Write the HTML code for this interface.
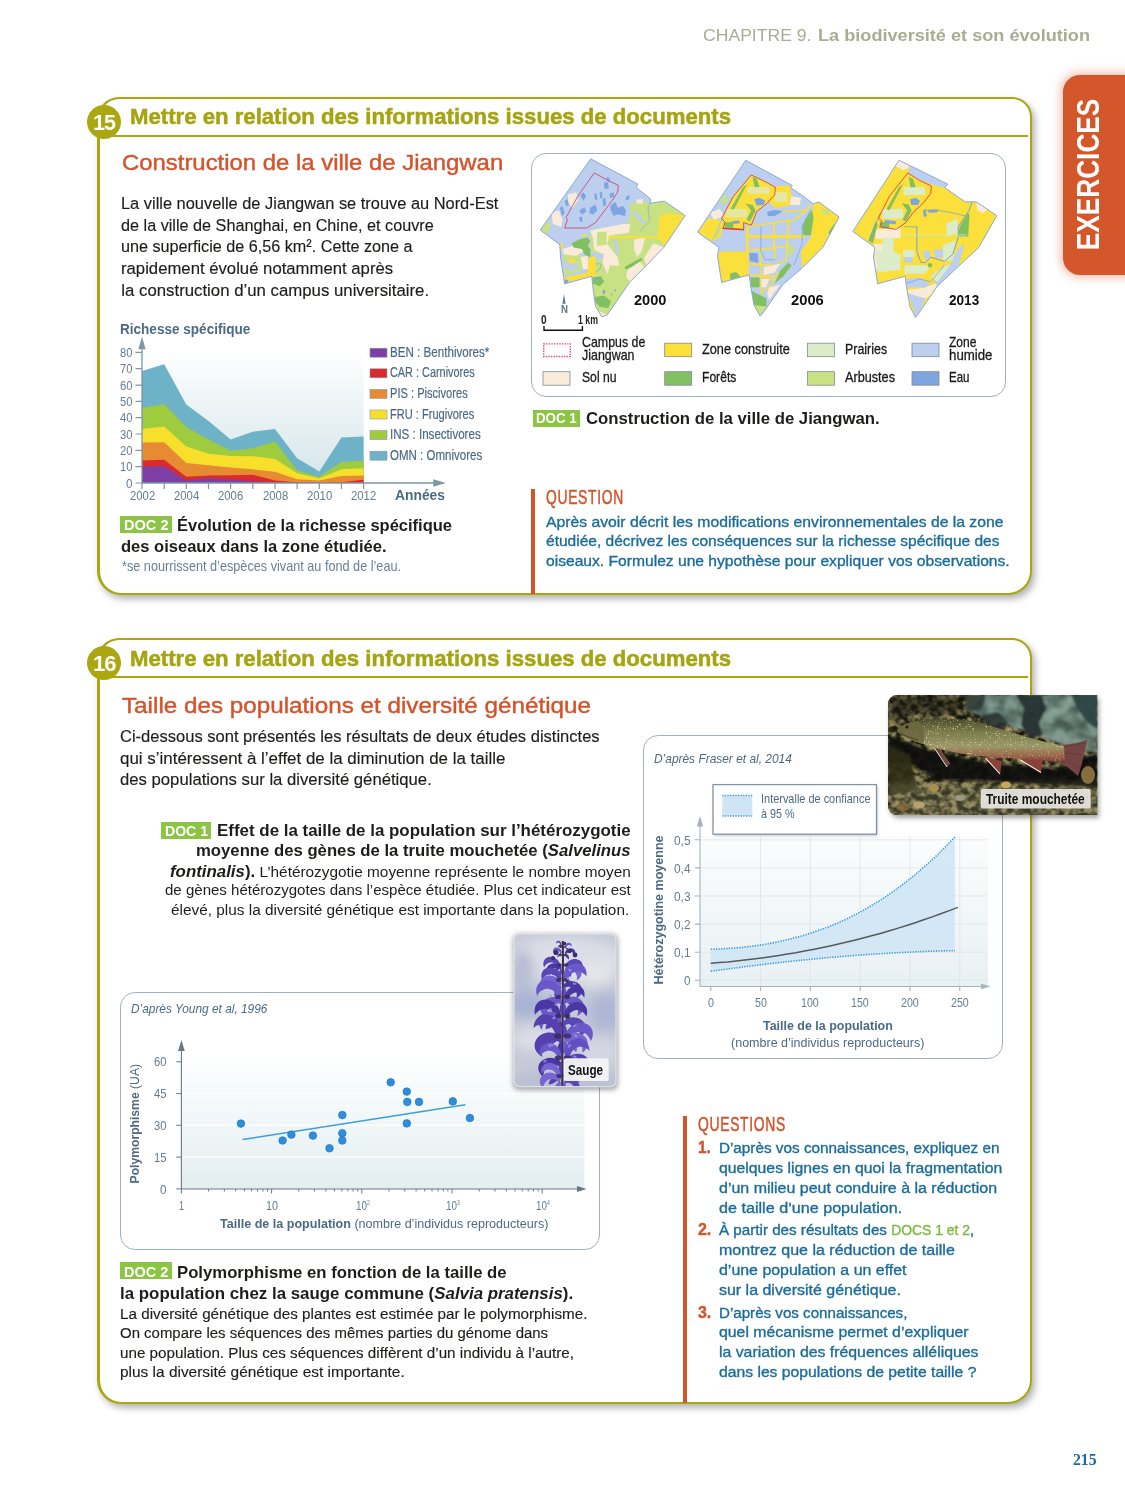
<!DOCTYPE html>
<html lang="fr"><head><meta charset="utf-8"><title>Exercices - La biodiversité et son évolution</title>
<style>
html,body{margin:0;padding:0;background:#fff;}
#page{position:relative;width:1125px;height:1500px;overflow:hidden;background:#fff;font-family:"Liberation Sans",sans-serif;color:#1d1d1b;}
.t{position:absolute;white-space:nowrap;line-height:1;transform-origin:0 0;}
.abs{position:absolute;}
.box{position:absolute;box-sizing:border-box;border:2px solid #aaa710;border-left-width:3px;border-bottom-width:2.5px;border-radius:22px;background:#fff;box-shadow:3px 4px 7px rgba(0,0,0,.3);}
.rule{position:absolute;height:2px;background:#aaa710;}
.badge{position:absolute;width:34px;height:34px;border-radius:50%;background:#aaa710;}
.fig{position:absolute;box-sizing:border-box;border:1.7px solid #9db1c4;border-radius:15px;background:#fff;}
.lab{position:absolute;background:#8cc444;}
.vbar{position:absolute;width:5px;background:#d4532b;}
svg{position:absolute;overflow:visible;}
svg text{font-family:"Liberation Sans",sans-serif;}

</style></head>
<body>
<div id="page">
<!-- side tab -->
<div class="abs" style="left:1062.5px;top:75px;width:90px;height:199.5px;border-radius:17px;background:#d4562b;box-shadow:0 0 9px 3px rgba(232,140,110,.5);"></div>

<!-- exercise 15 -->
<div class="box" style="left:97px;top:97px;width:934.5px;height:498px;border-radius:22px 20px 24px 24px;"></div>
<div class="rule" style="left:104px;top:135px;width:924px;"></div>
<div class="badge" style="left:86.7px;top:104.9px;"></div>
<div class="fig" style="left:531px;top:152.5px;width:475px;height:244.5px;"></div>
<div class="lab" style="left:533px;top:409.5px;width:47px;height:17px;"></div>
<div class="lab" style="left:120px;top:515.8px;width:51.6px;height:16.8px;"></div>
<div class="vbar" style="left:530.8px;top:488.5px;height:105px;width:4.1px;"></div>

<!-- exercise 16 -->
<div class="box" style="left:97px;top:638px;width:934.5px;height:766px;border-radius:22px 20px 24px 24px;"></div>
<div class="rule" style="left:104px;top:675.8px;width:924px;"></div>
<div class="badge" style="left:87px;top:645.5px;"></div>
<div class="fig" style="left:642.5px;top:735px;width:360px;height:323.5px;"></div>
<div class="fig" style="left:119.5px;top:991.5px;width:480px;height:258.8px;"></div>
<div class="lab" style="left:161px;top:822px;width:49.5px;height:16.5px;"></div>
<div class="lab" style="left:120.3px;top:1262px;width:51.5px;height:17px;"></div>
<div class="vbar" style="left:682.8px;top:1116px;height:286.5px;width:4px;"></div>

<svg width="1125" height="1500" viewBox="0 0 1125 1500" style="left:0;top:0">
<defs><linearGradient id="g1" x1="0" y1="0" x2="0" y2="1"><stop offset="0" stop-color="#ffffff"/><stop offset="1" stop-color="#d4e5ea"/></linearGradient></defs>
<rect x="142" y="348" width="221.6" height="135" fill="url(#g1)"/>
<polygon points="142.0,483 142.0,371.0 164.2,364.2 186.3,404.6 208.5,421.0 230.6,439.4 252.8,431.7 275.0,429.1 297.1,458.2 319.3,471.6 341.4,437.6 363.6,436.6 363.6,483" fill="#6db2c6"/>
<polygon points="142.0,483 142.0,407.9 164.2,404.0 186.3,427.0 208.5,439.4 230.6,450.7 252.8,448.2 275.0,441.4 297.1,470.6 319.3,476.8 341.4,462.1 363.6,460.6 363.6,483" fill="#9fcb3f"/>
<polygon points="142.0,483 142.0,429.1 164.2,426.4 186.3,446.6 208.5,453.8 230.6,455.9 252.8,456.2 275.0,459.0 297.1,473.2 319.3,478.6 341.4,469.3 363.6,468.3 363.6,483" fill="#f8df2c"/>
<polygon points="142.0,483 142.0,442.5 164.2,442.2 186.3,463.1 208.5,465.2 230.6,467.5 252.8,469.3 275.0,471.7 297.1,479.2 319.3,480.6 341.4,476.1 363.6,475.5 363.6,483" fill="#e78b32"/>
<polygon points="142.0,483 142.0,460.6 164.2,459.7 186.3,476.8 208.5,475.5 230.6,475.2 252.8,474.7 275.0,480.6 297.1,482.3 319.3,482.7 341.4,482.2 363.6,479.7 363.6,483" fill="#da2a2e"/>
<polygon points="142.0,483 142.0,466.8 164.2,465.9 186.3,480.6 208.5,478.3 230.6,479.6 252.8,481.2 275.0,482.5 297.1,483.0 319.3,483.0 341.4,483.0 363.6,483.0 363.6,483" fill="#7d3fa3"/>
<path d="M142,483.5V346M139.2,348.5L142,339L144.8,348.5ZM142,483H435M434,480.2L443.5,483L434,485.8Z" stroke="#7f97a8" stroke-width="1.3" fill="#7f97a8"/>
<path d="M135.5,483.0H142M135.5,466.7H142M135.5,450.4H142M135.5,434.0H142M135.5,417.7H142M135.5,401.4H142M135.5,385.1H142M135.5,368.7H142M135.5,352.4H142M142.0,483V489M164.2,483V489M186.3,483V489M208.5,483V489M230.6,483V489M252.8,483V489M275.0,483V489M297.1,483V489M319.3,483V489M341.4,483V489M363.6,483V489" stroke="#7f97a8" stroke-width="1.2" fill="none"/>
<rect x="370" y="348.2" width="17" height="9" fill="#7d3fa3" stroke="#8a9aa5" stroke-width=".6"/>
<rect x="370" y="368.8" width="17" height="9" fill="#da2a2e" stroke="#8a9aa5" stroke-width=".6"/>
<rect x="370" y="389.4" width="17" height="9" fill="#e78b32" stroke="#8a9aa5" stroke-width=".6"/>
<rect x="370" y="410.0" width="17" height="9" fill="#f8df2c" stroke="#8a9aa5" stroke-width=".6"/>
<rect x="370" y="430.6" width="17" height="9" fill="#9fcb3f" stroke="#8a9aa5" stroke-width=".6"/>
<rect x="370" y="451.2" width="17" height="9" fill="#6db2c6" stroke="#8a9aa5" stroke-width=".6"/>
</svg>

<svg width="1125" height="1500" viewBox="0 0 1125 1500" style="left:0;top:0">
<g transform="translate(535,155) scale(0.13778)">
<clipPath id="mc1"><polygon points="405,28 745,210 735,235 840,320 835,350 940,335 1090,440 935,670 810,800 690,920 525,1160 485,1175 440,1100 420,960 412,880 215,935 185,740 180,650 38,545" fill="#000"/></clipPath>
<g clip-path="url(#mc1)">
<polygon points="0,0 1125,0 1125,1234 0,1234" fill="#c8e283"/>
<polygon points="405,28 745,210 735,235 840,320 835,350 790,340 700,350 690,430 680,490 640,500 580,520 420,540 400,580 405,620 400,700 500,720 490,760 440,760 435,800 440,860 412,880 215,935 185,740 180,650 38,545" fill="#bccfee"/>
<polygon points="690,360 790,340 835,350 830,480 760,560 690,560" fill="#c8e283"/>
<polygon points="38,545 95,480 115,515 80,580" fill="#c8e283"/>
<polygon points="200,720 300,700 345,745 335,840 215,875" fill="#c8e283"/>
<polygon points="240,285 300,270 312,330 272,385 240,345" fill="#f9ead9"/>
<polygon points="120,425 172,400 200,470 190,522 130,500" fill="#f9ead9"/>
<polygon points="400,548 640,500 690,500 682,565 545,582 522,645 600,740 612,805 545,800 525,865 490,780 500,720 430,690 420,600" fill="#f9ead9"/>
<polygon points="200,682 330,640 352,700 300,732 210,722" fill="#f9ead9"/>
<polygon points="720,612 800,600 772,700 742,742 720,690" fill="#f9ead9"/>
<polygon points="860,640 935,670 870,742 810,800 790,752" fill="#f9ead9"/>
<polygon points="670,832 760,772 792,812 690,920 662,885" fill="#f9ead9"/>
<polygon points="455,1130 525,1160 485,1180" fill="#f9ead9"/>
<polygon points="330,742 382,730 392,822 350,832" fill="#f9ead9"/>
<polygon points="738,322 782,322 782,352 738,352" fill="#f9ead9"/>
<polygon points="450,560 520,555 520,650 450,660" fill="#c8e283"/>
<polygon points="700,412 722,400 802,490 782,506" fill="#bccfee"/>
<polygon points="568,612 590,610 612,722 590,726" fill="#bccfee"/>
<polygon points="215,760 300,790 320,820 250,840 215,820" fill="#bccfee"/>
<polygon points="905,445 950,420 1075,435 1090,450 940,668 920,622 890,612 900,480" fill="#fbdf3a"/>
<polygon points="530,590 890,592 890,605 530,603" fill="#fbdf3a"/>
<polygon points="390,740 440,735 442,880 412,882 380,862" fill="#fbdf3a"/>
<polygon points="205,890 400,850 440,880 260,918 215,915" fill="#fbdf3a"/>
<polygon points="178,640 200,640 206,682 186,676" fill="#fbdf3a"/>
<polygon points="240,762 282,750 292,782 250,792" fill="#fbdf3a"/>
<polygon points="345,574 376,574 376,592 345,592" fill="#fbdf3a"/>
<polygon points="265,640 330,610 382,598 402,622 382,660 402,682 402,742 360,722 340,682 280,672" fill="#80c060"/>
<polygon points="415,890 480,880 502,920 470,952 420,932" fill="#80c060"/>
<polygon points="650,812 770,745 782,760 700,812 660,832" fill="#80c060"/>
<polygon points="430,1030 500,1020 552,1060 532,1112 470,1102 440,1072" fill="#80c060"/>
<polygon points="545,372 582,340 602,382 640,370 662,402 652,442 600,430 570,442 550,402" fill="#7da6e0"/>
<polygon points="400,382 440,360 452,402 420,432 395,422" fill="#7da6e0"/>
<polygon points="330,292 350,270 372,300 350,332" fill="#7da6e0"/>
<polygon points="500,200 530,200 536,242 505,246" fill="#7da6e0"/>
<polygon points="490,322 510,310 516,362 495,372" fill="#7da6e0"/>
<polygon points="540,282 570,270 576,302 545,312" fill="#7da6e0"/>
<polygon points="430,282 446,276 452,322 436,326" fill="#7da6e0"/>
<polygon points="470,270 486,268 489,312 472,314" fill="#7da6e0"/>
<polygon points="320,402 360,380 372,412 340,432" fill="#7da6e0"/>
<polygon points="320,452 340,446 346,482 326,486" fill="#7da6e0"/>
<polygon points="520,160 540,166 546,196 526,190" fill="#7da6e0"/>
<polygon points="180,382 200,370 216,422 196,442" fill="#7da6e0"/>
<polygon points="215,332 236,320 246,362 226,372" fill="#7da6e0"/>
<polygon points="660,302 690,290 682,322 660,332" fill="#7da6e0"/>
<polygon points="215,905 242,905 236,932 215,938" fill="#7da6e0"/>
<polygon points="490,986 505,975 511,1002 495,1012" fill="#7da6e0"/>
<polygon points="545,1010 561,1005 561,1022" fill="#7da6e0"/>
<polygon points="570,980 586,975 586,992" fill="#7da6e0"/>
<polygon points="435,890 456,885 461,906 440,912" fill="#7da6e0"/>
<polyline points="835,350 820,385 832,480 762,552" fill="none" stroke="#86a8da" stroke-width="5" stroke-linejoin="round" stroke-linecap="round"/>
<polyline points="440,790 480,790 470,830 440,850" fill="none" stroke="#86a8da" stroke-width="5" stroke-linejoin="round" stroke-linecap="round"/>
<polygon points="430,130 540,190 605,220 600,270 560,330 440,490 375,530 215,530 235,470 225,455 310,300" fill="none" stroke="#cf3d62" stroke-width="6" stroke-linejoin="round"/>
</g>
<polygon points="405,28 745,210 735,235 840,320 835,350 940,335 1090,440 935,670 810,800 690,920 525,1160 485,1175 440,1100 420,960 412,880 215,935 185,740 180,650 38,545" fill="none" stroke="#86a8da" stroke-width="7" stroke-linejoin="round"/>
</g>
<g transform="translate(692,155) scale(0.13778)">
<clipPath id="mc2"><polygon points="390,38 728,222 715,235 830,315 880,355 920,340 1068,450 950,670 800,820 660,940 520,1140 495,1170 450,1090 425,950 415,870 215,925 185,735 195,670 40,560" fill="#000"/></clipPath>
<g clip-path="url(#mc2)">
<polygon points="0,0 1125,0 1125,1234 0,1234" fill="#bccfee"/>
<polygon points="40,560 120,455 238,485 206,596 150,628" fill="#fbdf3a"/>
<polygon points="185,735 200,700 392,700 402,872 215,925" fill="#fbdf3a"/>
<polygon points="880,355 920,340 1068,450 950,670 800,820 790,700 862,600 872,450" fill="#fbdf3a"/>
<polygon points="610,225 728,222 715,235 722,300 702,372 600,382 560,342 600,282" fill="#fbdf3a"/>
<polygon points="430,145 545,200 605,235 600,290 545,350 470,410 430,510 375,490 375,540 225,530 240,490 215,460 300,300" fill="#fbdf3a"/>
<polyline points="402,520 402,872" fill="none" stroke="#fbdf3a" stroke-width="18.900000000000002" stroke-linejoin="round" stroke-linecap="round"/>
<polyline points="402,592 810,592" fill="none" stroke="#fbdf3a" stroke-width="21.6" stroke-linejoin="round" stroke-linecap="round"/>
<polyline points="415,692 700,662" fill="none" stroke="#fbdf3a" stroke-width="12.15" stroke-linejoin="round" stroke-linecap="round"/>
<polyline points="415,792 610,802" fill="none" stroke="#fbdf3a" stroke-width="12.15" stroke-linejoin="round" stroke-linecap="round"/>
<polyline points="592,490 600,760" fill="none" stroke="#fbdf3a" stroke-width="12.15" stroke-linejoin="round" stroke-linecap="round"/>
<polyline points="705,470 682,760" fill="none" stroke="#fbdf3a" stroke-width="12.15" stroke-linejoin="round" stroke-linecap="round"/>
<polyline points="500,692 502,1000" fill="none" stroke="#fbdf3a" stroke-width="10.8" stroke-linejoin="round" stroke-linecap="round"/>
<polyline points="600,492 740,470 835,400" fill="none" stroke="#fbdf3a" stroke-width="12.15" stroke-linejoin="round" stroke-linecap="round"/>
<polyline points="610,802 682,760" fill="none" stroke="#fbdf3a" stroke-width="12.15" stroke-linejoin="round" stroke-linecap="round"/>
<polyline points="502,880 580,900 640,850" fill="none" stroke="#fbdf3a" stroke-width="10.8" stroke-linejoin="round" stroke-linecap="round"/>
<polyline points="502,1000 560,960 600,900" fill="none" stroke="#fbdf3a" stroke-width="10.8" stroke-linejoin="round" stroke-linecap="round"/>
<polyline points="402,872 600,880" fill="none" stroke="#fbdf3a" stroke-width="12.15" stroke-linejoin="round" stroke-linecap="round"/>
<polyline points="402,520 600,492" fill="none" stroke="#fbdf3a" stroke-width="10.8" stroke-linejoin="round" stroke-linecap="round"/>
<polyline points="835,400 860,360" fill="none" stroke="#fbdf3a" stroke-width="12.15" stroke-linejoin="round" stroke-linecap="round"/>
<polyline points="650,410 835,400" fill="none" stroke="#fbdf3a" stroke-width="10.8" stroke-linejoin="round" stroke-linecap="round"/>
<polygon points="820,470 872,400 882,460 862,582 810,582 800,520" fill="#80c060"/>
<polygon points="425,890 490,890 490,960 430,960" fill="#80c060"/>
<polygon points="430,985 540,1040 540,1100 495,1170 450,1090" fill="#80c060"/>
<polygon points="275,860 320,850 352,882 280,906" fill="#80c060"/>
<polygon points="640,840 700,780 722,802 662,882 600,932" fill="#80c060"/>
<polygon points="990,560 1032,500 1042,522 1002,592" fill="#80c060"/>
<polygon points="440,160 470,172 490,232 455,236" fill="#80c060"/>
<polygon points="390,352 440,362 462,402 420,482 395,470 430,402" fill="#80c060"/>
<polygon points="230,492 300,482 300,528 240,528" fill="#80c060"/>
<polygon points="372,232 400,212 300,402 280,392" fill="#80c060"/>
<polygon points="210,300 250,290 262,342 220,362" fill="#c8e283"/>
<polygon points="160,592 200,500 216,522 176,612" fill="#c8e283"/>
<polygon points="450,1090 540,1100 495,1170" fill="#c8e283"/>
<polygon points="700,660 740,650 735,720 700,725" fill="#c8e283"/>
<polygon points="935,390 990,395 1000,430 950,430" fill="#c8e283"/>
<polygon points="130,420 200,390 236,442 160,472" fill="#f9ead9"/>
<polygon points="720,300 792,310 782,362 710,362" fill="#f9ead9"/>
<polygon points="520,812 640,790 600,852 520,872" fill="#f9ead9"/>
<polygon points="560,962 640,940 560,1052 545,1002" fill="#f9ead9"/>
<polygon points="505,900 560,900 540,960 505,960" fill="#f9ead9"/>
<polygon points="405,232 560,232 560,282 405,282" fill="#dcebc8" opacity=".75"/>
<polygon points="250,392 400,392 400,452 250,452" fill="#dcebc8" opacity=".75"/>
<polygon points="600,270 690,270 690,340 600,340" fill="#dcebc8" opacity=".75"/>
<polygon points="450,322 490,310 532,332 520,362 470,366" fill="#7da6e0"/>
<polygon points="545,412 600,400 662,406 600,442 550,442" fill="#7da6e0"/>
<polygon points="415,712 476,712 482,782 420,772" fill="#7da6e0"/>
<polygon points="290,480 340,475 350,496 300,500" fill="#7da6e0"/>
<polyline points="500,520 500,700 530,760 600,760" fill="none" stroke="#86a9e2" stroke-width="6" stroke-linejoin="round" stroke-linecap="round"/>
<polyline points="740,800 800,640 800,520 860,400" fill="none" stroke="#86a9e2" stroke-width="6" stroke-linejoin="round" stroke-linecap="round"/>
<polyline points="150,622 210,482 232,430" fill="none" stroke="#9db9e6" stroke-width="5" stroke-linejoin="round" stroke-linecap="round"/>
<polygon points="430,145 545,200 605,235 600,290 545,350 470,410 430,510 375,490 375,540 225,530 240,490 215,460 300,300" fill="none" stroke="#d6343f" stroke-width="6" stroke-linejoin="round"/>
<polyline points="225,533 375,543" fill="none" stroke="#d6343f" stroke-width="9" stroke-linejoin="round" stroke-linecap="round" stroke-dasharray="5 7" stroke-linecap="butt"/>
</g>
<polygon points="390,38 728,222 715,235 830,315 880,355 920,340 1068,450 950,670 800,820 660,940 520,1140 495,1170 450,1090 425,950 415,870 215,925 185,735 195,670 40,560" fill="none" stroke="#86a8da" stroke-width="7" stroke-linejoin="round"/>
</g>
<g transform="translate(848,155) scale(0.13778)">
<clipPath id="mc3"><polygon points="370,38 725,212 700,235 850,340 930,340 1080,440 950,670 800,810 650,950 520,1140 490,1180 450,1100 425,960 415,880 215,935 185,740 195,670 35,555" fill="#000"/></clipPath>
<g clip-path="url(#mc3)">
<polygon points="0,0 1125,0 1125,1234 0,1234" fill="#fbdf3a"/>
<polygon points="440,90 470,80 725,212 700,235 600,215 520,180 440,135" fill="#bccfee"/>
<polygon points="800,680 850,640 800,810 650,950 620,920 740,800" fill="#bccfee"/>
<polygon points="430,990 500,975 582,1000 520,1140 490,1180 470,1100" fill="#bccfee"/>
<polygon points="415,900 520,890 600,940 560,962 430,962" fill="#bccfee"/>
<polygon points="540,700 590,690 602,742 560,762" fill="#bccfee"/>
<polygon points="620,690 690,680 690,742 640,752" fill="#bccfee"/>
<polygon points="410,740 470,740 470,780 410,780" fill="#bccfee"/>
<polygon points="370,38 445,60 440,92 400,112 345,80" fill="#f9ead9"/>
<polygon points="195,540 382,530 382,602 200,612" fill="#f9ead9"/>
<polygon points="185,650 252,640 252,822 200,832" fill="#f9ead9"/>
<polygon points="425,980 600,960 622,1002 560,1042 430,1002" fill="#f9ead9"/>
<polygon points="930,340 1012,395 982,422 940,402" fill="#f9ead9"/>
<polygon points="560,960 640,930 640,975 600,985" fill="#f9ead9"/>
<polygon points="250,600 332,600 332,702 382,722 382,832 215,852 200,700 250,690" fill="#dcebc8"/>
<polygon points="410,800 600,800 560,862 410,862" fill="#dcebc8"/>
<polygon points="400,690 482,690 482,740 400,740" fill="#dcebc8"/>
<polygon points="710,500 792,460 802,562 720,592" fill="#dcebc8"/>
<polygon points="690,650 782,620 762,762 690,772" fill="#dcebc8"/>
<polygon points="600,882 700,800 742,800 650,922" fill="#dcebc8"/>
<polygon points="405,232 560,232 560,290 405,290" fill="#dcebc8"/>
<polygon points="250,392 400,392 400,462 250,462" fill="#dcebc8"/>
<polygon points="810,520 872,420 882,440 872,592 800,592" fill="#80c060"/>
<polygon points="372,230 400,210 300,402 280,392" fill="#80c060"/>
<polygon points="150,622 200,480 216,500 180,642" fill="#80c060"/>
<polygon points="230,490 300,480 300,532 240,532" fill="#80c060"/>
<polygon points="440,160 470,170 492,232 455,236" fill="#80c060"/>
<polygon points="390,350 440,360 462,402 420,482 395,470 430,402" fill="#80c060"/>
<polygon points="990,602 1040,510 1052,532 1000,612" fill="#80c060"/>
<circle cx="595" cy="800" r="16" fill="#80c060"/>
<polygon points="450,322 490,310 522,332 510,362 460,362" fill="#7da6e0"/>
<polygon points="545,402 562,390 572,442 550,452" fill="#7da6e0"/>
<polygon points="265,470 350,480 345,502 270,496" fill="#7da6e0"/>
<polygon points="580,400 650,395 650,415 585,420" fill="#7da6e0"/>
<polyline points="500,520 500,700 530,780 560,782 600,742 700,772 760,722 800,600 800,520 880,400 900,340" fill="none" stroke="#6f9de2" stroke-width="7" stroke-linejoin="round" stroke-linecap="round"/>
<polyline points="560,400 650,400 760,420 850,442" fill="none" stroke="#6f9de2" stroke-width="5" stroke-linejoin="round" stroke-linecap="round"/>
<polyline points="150,622 210,482 232,430" fill="none" stroke="#6f9de2" stroke-width="5" stroke-linejoin="round" stroke-linecap="round"/>
<polyline points="410,520 500,522" fill="none" stroke="#6f9de2" stroke-width="5" stroke-linejoin="round" stroke-linecap="round"/>
<polyline points="400,578 860,580" fill="none" stroke="#dcebc8" stroke-width="5" stroke-linejoin="round" stroke-linecap="round"/>
<polyline points="400,592 860,594" fill="none" stroke="#cfe0b0" stroke-width="3" stroke-linejoin="round" stroke-linecap="round"/>
<polyline points="430,930 520,900 600,920 700,800" fill="none" stroke="#6f9de2" stroke-width="5" stroke-linejoin="round" stroke-linecap="round"/>
<polygon points="435,130 520,185 605,225 600,280 545,350 470,420 420,490 350,540 230,520 245,480 220,460 300,300" fill="none" stroke="#d6343f" stroke-width="6" stroke-linejoin="round"/>
</g>
<polygon points="370,38 725,212 700,235 850,340 930,340 1080,440 950,670 800,810 650,950 520,1140 490,1180 450,1100 425,960 415,880 215,935 185,740 195,670 35,555" fill="none" stroke="#86a8da" stroke-width="7" stroke-linejoin="round"/>
</g>
<path d="M564,294L565.6,303.7H562.4Z" fill="#5a7890"/>
<path d="M544,326V330.2H582.4V326" fill="none" stroke="#111" stroke-width="1.4"/>
<rect x="543.7" y="343.9" width="26.6" height="12.6" fill="#fff" stroke="#de4a7c" stroke-width="1.4" stroke-dasharray="1.4 1.2"/>
<rect x="664.7" y="343.2" width="27" height="13.5" fill="#fbdf3a" stroke="#808b94" stroke-width=".8"/>
<rect x="807.6" y="343.2" width="27" height="13.5" fill="#dcebc8" stroke="#808b94" stroke-width=".8"/>
<rect x="912" y="343.2" width="27" height="13.5" fill="#bccfee" stroke="#808b94" stroke-width=".8"/>
<rect x="543" y="371.7" width="27" height="13.5" fill="#f9ead9" stroke="#808b94" stroke-width=".8"/>
<rect x="664.7" y="371.7" width="27" height="13.5" fill="#80c060" stroke="#808b94" stroke-width=".8"/>
<rect x="807.6" y="371.7" width="27" height="13.5" fill="#c8e283" stroke="#808b94" stroke-width=".8"/>
<rect x="912" y="371.7" width="27" height="13.5" fill="#7da6e0" stroke="#808b94" stroke-width=".8"/>
</svg>

<svg width="1125" height="1500" viewBox="0 0 1125 1500" style="left:0;top:0">
<defs><linearGradient id="g2" x1="0" y1="0" x2="0" y2="1"><stop offset="0" stop-color="#fbfdfd"/><stop offset="1" stop-color="#e9f0f3"/></linearGradient><linearGradient id="g3" x1="0" y1="0" x2="0" y2="1"><stop offset="0" stop-color="#ffffff"/><stop offset=".3" stop-color="#f6fafb"/><stop offset="1" stop-color="#e4eef1"/></linearGradient><filter id="sh" x="-10%" y="-10%" width="130%" height="140%"><feGaussianBlur stdDeviation="1.5"/></filter></defs>
<rect x="700" y="835.5" width="288" height="151" fill="url(#g2)"/>
<path d="M760.5,835.5V986M810.3,835.5V986M860.2,835.5V986M910.0,835.5V986M959.8,835.5V986M700,980.3H988M700,952.2H988M700,924.1H988M700,896.0H988M700,867.9H988M700,839.8H988" stroke="#dde5e9" stroke-width="1" fill="none" opacity=".8"/>
<polygon points="710.7,949.3 719.1,949.0 727.5,948.5 736.0,947.9 744.4,947.1 752.8,946.1 761.2,944.9 769.6,943.5 778.0,941.8 786.5,939.9 794.9,937.8 803.3,935.5 811.7,932.8 820.1,929.9 828.6,926.8 837.0,923.3 845.4,919.5 853.8,915.4 862.2,910.9 870.6,906.1 879.1,901.0 887.5,895.5 895.9,889.6 904.3,883.3 912.7,876.7 921.1,869.6 929.6,862.1 938.0,854.2 946.4,845.8 954.8,837.0 954.8,950.6 946.4,950.8 938.0,951.0 929.6,951.3 921.1,951.6 912.7,952.0 904.3,952.4 895.9,952.8 887.5,953.3 879.1,953.8 870.6,954.3 862.2,954.9 853.8,955.5 845.4,956.2 837.0,956.9 828.6,957.6 820.1,958.4 811.7,959.2 803.3,960.0 794.9,960.9 786.5,961.8 778.0,962.7 769.6,963.7 761.2,964.7 752.8,965.7 744.4,966.8 736.0,967.9 727.5,969.0 719.1,970.1 710.7,971.3" fill="#cfe5f5" opacity=".9"/>
<polyline points="710.7,949.3 719.1,949.0 727.5,948.5 736.0,947.9 744.4,947.1 752.8,946.1 761.2,944.9 769.6,943.5 778.0,941.8 786.5,939.9 794.9,937.8 803.3,935.5 811.7,932.8 820.1,929.9 828.6,926.8 837.0,923.3 845.4,919.5 853.8,915.4 862.2,910.9 870.6,906.1 879.1,901.0 887.5,895.5 895.9,889.6 904.3,883.3 912.7,876.7 921.1,869.6 929.6,862.1 938.0,854.2 946.4,845.8 954.8,837.0" fill="none" stroke="#3a9ad9" stroke-width="1.6" stroke-dasharray="1.3 1.3"/>
<polyline points="710.7,971.3 719.1,970.1 727.5,969.0 736.0,967.9 744.4,966.8 752.8,965.7 761.2,964.7 769.6,963.7 778.0,962.7 786.5,961.8 794.9,960.9 803.3,960.0 811.7,959.2 820.1,958.4 828.6,957.6 837.0,956.9 845.4,956.2 853.8,955.5 862.2,954.9 870.6,954.3 879.1,953.8 887.5,953.3 895.9,952.8 904.3,952.4 912.7,952.0 921.1,951.6 929.6,951.3 938.0,951.0 946.4,950.8 954.8,950.6" fill="none" stroke="#3a9ad9" stroke-width="1.6" stroke-dasharray="1.3 1.3"/>
<polyline points="710.7,963.3 719.2,962.6 727.7,961.9 736.3,961.0 744.8,960.1 753.3,959.1 761.8,958.0 770.3,956.8 778.9,955.5 787.4,954.1 795.9,952.7 804.4,951.1 813.0,949.5 821.5,947.8 830.0,946.0 838.5,944.1 847.0,942.1 855.6,940.0 864.1,937.8 872.6,935.5 881.1,933.2 889.6,930.7 898.2,928.1 906.7,925.5 915.2,922.7 923.7,919.8 932.2,916.9 940.8,913.8 949.3,910.6 957.8,907.4" fill="none" stroke="#58595b" stroke-width="1.5"/>
<path d="M700,986.5V825M697.6,826L700,818L702.4,826ZM700,986.5H981M981.5,984.4L988.5,986.5L981.5,988.6Z" stroke="#a3b4c1" stroke-width="1.1" fill="#a3b4c1"/>
<path d="M694.8,980.3H700M694.8,952.2H700M694.8,924.1H700M694.8,896.0H700M694.8,867.9H700M694.8,839.8H700M710.7,986.5V991M760.5,986.5V991M810.3,986.5V991M860.2,986.5V991M910.0,986.5V991M959.8,986.5V991" stroke="#a3b4c1" stroke-width="1.1" fill="none"/>
<rect x="714.5" y="786.8" width="163" height="49" fill="#6a7a88" opacity=".4" filter="url(#sh)"/>
<rect x="713" y="784.6" width="163.5" height="49.6" fill="#fff" stroke="#8094a6" stroke-width="1.3"/>
<rect x="722.3" y="795.5" width="30" height="20.5" fill="#cfe5f5"/>
<path d="M722.3,795.5h30M722.3,816h30" stroke="#3a9ad9" stroke-width="1.6" stroke-dasharray="1.3 1.3" fill="none"/>
<rect x="181.4" y="1052" width="403" height="137" fill="url(#g3)"/>
<path d="M181.4,1157.1H584M181.4,1125.3H584M181.4,1093.6H584M181.4,1061.8H584" stroke="#fff" stroke-width="1.2" fill="none" opacity=".9"/>
<path d="M181.4,1189V1049M178.8,1050.5L181.4,1042L184,1050.5ZM181.4,1189H577M577.5,1186.8L584.7,1189L577.5,1191.2Z" stroke="#64798a" stroke-width="1.1" fill="#64798a"/>
<path d="M176.2,1188.9H181.4M176.2,1157.1H181.4M176.2,1125.3H181.4M176.2,1093.6H181.4M176.2,1061.8H181.4M181.4,1189V1193.5M208.6,1189V1191.5M224.4,1189V1191.5M235.7,1189V1191.5M244.4,1189V1191.5M251.6,1189V1191.5M257.6,1189V1191.5M262.9,1189V1191.5M267.5,1189V1191.5M271.6,1189V1193.5M298.8,1189V1191.5M314.6,1189V1191.5M325.9,1189V1191.5M334.6,1189V1191.5M341.8,1189V1191.5M347.8,1189V1191.5M353.1,1189V1191.5M357.7,1189V1191.5M361.8,1189V1193.5M389.0,1189V1191.5M404.8,1189V1191.5M416.1,1189V1191.5M424.8,1189V1191.5M432.0,1189V1191.5M438.0,1189V1191.5M443.3,1189V1191.5M447.9,1189V1191.5M452.0,1189V1193.5M479.2,1189V1191.5M495.0,1189V1191.5M506.3,1189V1191.5M515.0,1189V1191.5M522.2,1189V1191.5M528.2,1189V1191.5M533.5,1189V1191.5M538.1,1189V1191.5M542.2,1189V1193.5" stroke="#64798a" stroke-width="1" fill="none"/>
<line x1="242.5" y1="1139.5" x2="465.5" y2="1104.8" stroke="#3d9fd8" stroke-width="1.5"/>
<circle cx="240.9" cy="1123.6" r="3.8" fill="#2f8edb" stroke="#2277c4" stroke-width=".7"/>
<circle cx="282.6" cy="1140.5" r="3.8" fill="#2f8edb" stroke="#2277c4" stroke-width=".7"/>
<circle cx="291.4" cy="1134.6" r="3.8" fill="#2f8edb" stroke="#2277c4" stroke-width=".7"/>
<circle cx="312.9" cy="1135.6" r="3.8" fill="#2f8edb" stroke="#2277c4" stroke-width=".7"/>
<circle cx="329.5" cy="1148.3" r="3.8" fill="#2f8edb" stroke="#2277c4" stroke-width=".7"/>
<circle cx="342.3" cy="1115.1" r="3.8" fill="#2f8edb" stroke="#2277c4" stroke-width=".7"/>
<circle cx="342.3" cy="1133.2" r="3.8" fill="#2f8edb" stroke="#2277c4" stroke-width=".7"/>
<circle cx="342.3" cy="1140.5" r="3.8" fill="#2f8edb" stroke="#2277c4" stroke-width=".7"/>
<circle cx="390.7" cy="1082.3" r="3.8" fill="#2f8edb" stroke="#2277c4" stroke-width=".7"/>
<circle cx="406.8" cy="1091.6" r="3.8" fill="#2f8edb" stroke="#2277c4" stroke-width=".7"/>
<circle cx="407.3" cy="1101.9" r="3.8" fill="#2f8edb" stroke="#2277c4" stroke-width=".7"/>
<circle cx="406.8" cy="1123.4" r="3.8" fill="#2f8edb" stroke="#2277c4" stroke-width=".7"/>
<circle cx="419" cy="1101.9" r="3.8" fill="#2f8edb" stroke="#2277c4" stroke-width=".7"/>
<circle cx="452.8" cy="1101.4" r="3.8" fill="#2f8edb" stroke="#2277c4" stroke-width=".7"/>
<circle cx="469.9" cy="1118" r="3.8" fill="#2f8edb" stroke="#2277c4" stroke-width=".7"/>
</svg>

<!-- trout photo -->
<div class="abs" style="left:890px;top:698px;width:209px;height:120px;border-radius:9px 0 0 9px;background:rgba(70,70,70,.5);filter:blur(2.5px);"></div>
<svg width="209.3" height="120.1" viewBox="0 0 209.3 120.1" style="left:888px;top:695.4px">
<defs>
<clipPath id="rk"><path d="M78,0H209.3V58L180,52L150,40L120,30L95,22L82,16Z"/></clipPath>
<clipPath id="fc"><path d="M9,0H209.3V120.1H9A9,9 0 0 1 0,111.1V9A9,9 0 0 1 9,0Z"/></clipPath>
<filter id="peb" x="0" y="0" width="100%" height="100%" color-interpolation-filters="sRGB"><feTurbulence type="fractalNoise" baseFrequency=".13 .16" numOctaves="2" seed="7" result="n"/><feColorMatrix type="matrix" values="1 0 0 0 0 1 0 0 0 0 1 0 0 0 0 0 0 0 0 1"/>
<feComponentTransfer><feFuncR type="table" tableValues=".07 .07 .08 .14 .34 .56 .66 .7 .7"/><feFuncG type="table" tableValues=".07 .07 .08 .14 .33 .52 .6 .64 .64"/><feFuncB type="table" tableValues=".04 .04 .05 .09 .22 .35 .42 .45 .45"/><feFuncA type="linear" slope="0" intercept="1"/></feComponentTransfer></filter>
<filter id="peb2" x="0" y="0" width="100%" height="100%" color-interpolation-filters="sRGB"><feTurbulence type="fractalNoise" baseFrequency=".06 .08" numOctaves="3" seed="3" result="n"/><feColorMatrix type="matrix" values="1 0 0 0 0 1 0 0 0 0 1 0 0 0 0 0 0 0 0 1"/>
<feComponentTransfer><feFuncR type="table" tableValues=".1 .1 .15 .3 .48 .58 .62 .62"/><feFuncG type="table" tableValues=".14 .14 .2 .38 .58 .68 .72 .72"/><feFuncB type="table" tableValues=".13 .13 .19 .35 .54 .63 .67 .67"/><feFuncA type="linear" slope="0" intercept="1"/></feComponentTransfer></filter>
<filter id="spk" x="0" y="0" width="100%" height="100%" color-interpolation-filters="sRGB"><feTurbulence type="turbulence" baseFrequency=".45" numOctaves="1" seed="11" result="n"/>
<feColorMatrix in="n" type="matrix" values="0 0 0 0 .86  0 0 0 0 .84  0 0 0 0 .6  3.2 0 0 0 -.95"/><feComposite in2="SourceGraphic" operator="in"/></filter>
<filter id="b1"><feGaussianBlur stdDeviation="1.2"/></filter>
<filter id="b3"><feGaussianBlur stdDeviation="3"/></filter>
<linearGradient id="fg" x1="0" y1="0" x2="0" y2="1"><stop offset="0" stop-color="#4a492b"/><stop offset=".3" stop-color="#7a7a4c"/><stop offset=".62" stop-color="#9a9868"/><stop offset=".86" stop-color="#9a6049"/><stop offset="1" stop-color="#683430"/></linearGradient>
</defs>
<g clip-path="url(#fc)">
<rect width="209.3" height="120.1" fill="#3b3a24"/>
<!-- pebbles texture -->
<rect width="209.3" height="120.1" filter="url(#peb)" opacity=".95"/>
<!-- teal rock upper right -->
<g filter="url(#b1)">
<path d="M78,0H209.3V58L180,52L150,40L120,30L95,22L82,16Z" fill="#6f897f"/>
<g clip-path="url(#rk)"><rect x="72" y="0" width="138" height="58" filter="url(#peb2)" opacity=".8"/></g>
<path d="M78,0H209.3V58L180,52L150,40L120,30L95,22L82,16Z" fill="#7a958a" opacity=".35"/>
<path d="M183,0H209.3V34C200,30 192,20 183,0Z" fill="#2f4646"/>
<path d="M128,0h26l4,14l-7,14l4,12l-14,4l-8,-14l3,-16Z" fill="#222c2c" opacity=".9"/>
<path d="M94,20l16,-3l10,10l-4,10l-18,-6Z" fill="#263030" opacity=".85"/>
<path d="M76,0h22l-4,14l-16,4Z" fill="#2a3330" opacity=".8"/>
</g>
<!-- dark top-left -->
<path d="M0,0H75L72,16L50,22L28,18L0,26Z" fill="#14130c" opacity=".62" filter="url(#b3)"/>
<!-- shadow beneath the fish -->
<path d="M0,40L40,55L100,68L170,74L209.3,58V92L160,90L100,86L50,84L25,70L0,66Z" fill="#0f0f0a" opacity=".93" filter="url(#b1)"/>
<path d="M0,50L22,60L30,95L0,100Z" fill="#2e2f18" opacity=".9" filter="url(#b1)"/>
<!-- lighter pebbles bottom -->
<rect x="0" y="88" width="209.3" height="34" fill="#8d8763" opacity=".3" filter="url(#b3)"/>
<ellipse cx="118" cy="90" rx="5" ry="3.5" fill="#c8a85a"/><ellipse cx="46" cy="93" rx="5" ry="4" fill="#a8904e"/><ellipse cx="31" cy="110" rx="6" ry="3.5" fill="#b8a070"/>
<ellipse cx="72" cy="103" rx="5" ry="3" fill="#9a9a86"/><ellipse cx="200" cy="80" rx="7" ry="9" fill="#a0864a" opacity=".8"/><ellipse cx="15" cy="112" rx="7" ry="4" fill="#8a6a3a" opacity=".8"/>
<!-- fish -->
<g>
<path d="M172,50C182,50 192,47 199.5,45C197,54 196,64 190,81C185,77 180,72 174,69Z" fill="#754544"/><path d="M176,52L197,48M177,58L195,60M177,64L192,74" stroke="#5a3435" stroke-width=".8" fill="none" opacity=".7"/>
<path d="M45,51L59,72L62.5,68.5L52,54Z" fill="#6e4a3c"/><path d="M45,51L59,72" stroke="#e8e6e0" stroke-width="1" fill="none"/>
<path d="M97,62L112,79L114,66Z" fill="#8d4038"/><path d="M97.5,63L112,79" stroke="#f2f0ea" stroke-width="1.1" fill="none"/>
<path d="M132,64L153,77.5L155,64Z" fill="#8d4038"/><path d="M132.5,65L153,77.5" stroke="#f2f0ea" stroke-width="1.1" fill="none"/>
<path id="fb" d="M10,34C18,27 34,23.5 50,23.5C70,23.5 88,26 100,30C118,35.5 140,43 158,47C166,49 172,50 176,51L177,68C170,67 160,66.5 150,65C130,63.5 110,63 95,61.5C80,60 62,57 48,53C34,49 20,44 12,39C9.5,37.5 9,35.5 10,34Z" fill="url(#fg)"/>
<use href="#fb" fill="#fff" filter="url(#spk)" opacity=".85"/>
<path d="M10,34C14,30 22,27 30,25.5C36,31 38,42 35,49C26,46 17,42 12,39C9.5,37.5 9,35.5 10,34Z" fill="#6b6640" opacity=".85"/>
<circle cx="19" cy="32" r="1.5" fill="#1a1a10"/>
<path d="M11,37.5C17,41 24,43.5 30,45" stroke="#3a3020" stroke-width=".7" fill="none"/>
</g>
</g>
<!-- label -->
<rect x="92.7" y="93.9" width="110" height="19.7" rx="2" fill="#e6e5e1" opacity=".93"/>
</svg>

<!-- sage photo -->
<div class="abs" style="left:513px;top:934px;width:105px;height:156px;border-radius:6px;background:rgba(80,80,90,.5);filter:blur(2.5px);"></div>
<svg width="102" height="152.6" viewBox="0 0 102 152.6" style="left:514px;top:934.4px">
<defs><clipPath id="sc"><rect width="102" height="152.6" rx="5.5"/></clipPath><filter id="sb6"><feGaussianBlur stdDeviation="6"/></filter><filter id="sb1"><feGaussianBlur stdDeviation=".45"/></filter>
<path id="pt" d="M0,0C1.5,-6 7,-9.5 12.5,-7.5C16,-6 17.5,-2 15.5,2.5C14.5,-0.5 11.5,-3 8,-2.5C5,-2 3,0 2.2,3.2Z"/>
<path id="lp" d="M1.5,1.5C5,2 8.5,5.5 7.5,9.5C4.5,8.5 2,6 1,3Z"/></defs>
<g clip-path="url(#sc)">
<rect width="102" height="152.6" fill="#c6cad8"/>
<g filter="url(#sb6)"><ellipse cx="50" cy="25" rx="60" ry="22" fill="#dcdee6"/><ellipse cx="12" cy="70" rx="22" ry="14" fill="#a9b3d4"/><ellipse cx="92" cy="78" rx="18" ry="20" fill="#aeb8d6"/><ellipse cx="80" cy="40" rx="22" ry="12" fill="#e4e5ea"/><ellipse cx="20" cy="105" rx="22" ry="12" fill="#dcdee6"/><ellipse cx="85" cy="118" rx="20" ry="14" fill="#d4d7e2"/><ellipse cx="50" cy="148" rx="60" ry="10" fill="#b9bfd2"/><ellipse cx="8" cy="35" rx="12" ry="20" fill="#b7bdd4"/></g>
<path d="M48.7,7C49.6,40 48.2,90 48.3,152.6" stroke="#47324a" stroke-width="2" fill="none"/>
<g filter="url(#sb1)">
<g transform="translate(47.4,10.6) scale(-0.35,0.35) rotate(-19)"><use href="#pt" fill="#5846b4"/><use href="#lp" fill="#5846b4"/></g>
<g transform="translate(50.8,13.1) scale(0.44,0.44) rotate(-12)"><use href="#pt" fill="#6a58c8"/><use href="#lp" fill="#5440ae"/></g>
<g transform="translate(47.9,18.4) scale(-0.55,0.55) rotate(-6)"><use href="#pt" fill="#6a58c8"/><use href="#lp" fill="#5846b4"/></g>
<g transform="translate(50.8,18.8) scale(0.64,0.64) rotate(7)"><use href="#pt" fill="#4a38a4"/><use href="#lp" fill="#4a38a4"/></g>
<g transform="translate(46.5,31.5) scale(-1.05,1.05) rotate(-2)"><use href="#pt" fill="#5846b4"/><use href="#lp" fill="#5440ae"/></g>
<g transform="translate(47.7,33.0) scale(-0.95,0.95) rotate(27)"><use href="#pt" fill="#4a38a4"/><use href="#lp" fill="#5846b4"/></g>
<g transform="translate(51.1,31.4) scale(1.07,1.07) rotate(13)"><use href="#pt" fill="#5846b4"/><use href="#lp" fill="#4a38a4"/></g>
<g transform="translate(50.9,34.0) scale(1.09,1.09) rotate(38)"><use href="#pt" fill="#7766d2"/><use href="#lp" fill="#7766d2"/></g>
<g transform="translate(47.9,44.2) scale(-1.26,1.26) rotate(-3)"><use href="#pt" fill="#5846b4"/><use href="#lp" fill="#5846b4"/></g>
<g transform="translate(47.6,49.1) scale(-1.32,1.32) rotate(14)"><use href="#pt" fill="#7766d2"/><use href="#lp" fill="#6350c0"/></g>
<g transform="translate(49.6,44.7) scale(1.46,1.46) rotate(-15)"><use href="#pt" fill="#6a58c8"/><use href="#lp" fill="#6350c0"/></g>
<g transform="translate(49.9,50.0) scale(1.20,1.20) rotate(40)"><use href="#pt" fill="#4a38a4"/><use href="#lp" fill="#6350c0"/></g>
<g transform="translate(48.0,60.2) scale(-1.59,1.59) rotate(-5)"><use href="#pt" fill="#6a58c8"/><use href="#lp" fill="#4a38a4"/></g>
<g transform="translate(47.7,65.3) scale(-1.47,1.47) rotate(46)"><use href="#pt" fill="#6a58c8"/><use href="#lp" fill="#4a38a4"/></g>
<g transform="translate(50.6,63.6) scale(1.25,1.25) rotate(-9)"><use href="#pt" fill="#4a38a4"/><use href="#lp" fill="#6350c0"/></g>
<g transform="translate(49.8,65.3) scale(1.36,1.36) rotate(42)"><use href="#pt" fill="#6a58c8"/><use href="#lp" fill="#6350c0"/></g>
<g transform="translate(47.0,82.3) scale(-1.66,1.66) rotate(-12)"><use href="#pt" fill="#4a38a4"/><use href="#lp" fill="#5440ae"/></g>
<g transform="translate(47.9,84.5) scale(-1.45,1.45) rotate(21)"><use href="#pt" fill="#6a58c8"/><use href="#lp" fill="#4a38a4"/></g>
<g transform="translate(50.1,80.5) scale(1.42,1.42) rotate(-4)"><use href="#pt" fill="#4a38a4"/><use href="#lp" fill="#4a38a4"/></g>
<g transform="translate(49.6,86.7) scale(1.45,1.45) rotate(38)"><use href="#pt" fill="#5846b4"/><use href="#lp" fill="#5846b4"/></g>
<g transform="translate(47.0,102.9) scale(-1.84,1.84) rotate(-27)"><use href="#pt" fill="#5440ae"/><use href="#lp" fill="#5846b4"/></g>
<g transform="translate(47.6,103.1) scale(-1.76,1.76) rotate(37)"><use href="#pt" fill="#5440ae"/><use href="#lp" fill="#4a38a4"/></g>
<g transform="translate(51.2,100.9) scale(1.68,1.68) rotate(5)"><use href="#pt" fill="#6a58c8"/><use href="#lp" fill="#7766d2"/></g>
<g transform="translate(50.0,104.0) scale(1.50,1.50) rotate(30)"><use href="#pt" fill="#7766d2"/><use href="#lp" fill="#6a58c8"/></g>
<g transform="translate(47.7,122.0) scale(-1.37,1.37) rotate(-8)"><use href="#pt" fill="#6a58c8"/><use href="#lp" fill="#6a58c8"/></g>
<g transform="translate(47.5,128.6) scale(-1.47,1.47) rotate(31)"><use href="#pt" fill="#4a38a4"/><use href="#lp" fill="#5440ae"/></g>
<g transform="translate(51.1,123.6) scale(1.61,1.61) rotate(-25)"><use href="#pt" fill="#6350c0"/><use href="#lp" fill="#6350c0"/></g>
<g transform="translate(50.1,128.7) scale(1.53,1.53) rotate(14)"><use href="#pt" fill="#5440ae"/><use href="#lp" fill="#6a58c8"/></g>
<g transform="translate(46.6,141.6) scale(-1.23,1.23) rotate(-15)"><use href="#pt" fill="#7766d2"/><use href="#lp" fill="#5440ae"/></g>
<g transform="translate(46.6,144.4) scale(-1.28,1.28) rotate(22)"><use href="#pt" fill="#7766d2"/><use href="#lp" fill="#7766d2"/></g>
<g transform="translate(51.1,141.7) scale(1.33,1.33) rotate(-27)"><use href="#pt" fill="#5846b4"/><use href="#lp" fill="#7766d2"/></g>
<g transform="translate(51.1,145.7) scale(1.06,1.06) rotate(52)"><use href="#pt" fill="#5846b4"/><use href="#lp" fill="#6a58c8"/></g>
<ellipse cx="46.8" cy="13.0" rx="1.3" ry="1.0" fill="#3b2a5e" opacity=".85"/>
<ellipse cx="50.6" cy="13.0" rx="1.3" ry="1.0" fill="#3b2a5e" opacity=".85"/>
<ellipse cx="46.4" cy="21.0" rx="1.7" ry="1.2" fill="#3b2a5e" opacity=".85"/>
<ellipse cx="51.0" cy="21.0" rx="1.7" ry="1.2" fill="#3b2a5e" opacity=".85"/>
<ellipse cx="45.5" cy="31.0" rx="2.4" ry="1.7" fill="#3b2a5e" opacity=".85"/>
<ellipse cx="51.9" cy="31.0" rx="2.4" ry="1.7" fill="#3b2a5e" opacity=".85"/>
<ellipse cx="44.8" cy="46.0" rx="2.9" ry="2.1" fill="#3b2a5e" opacity=".85"/>
<ellipse cx="52.6" cy="46.0" rx="2.9" ry="2.1" fill="#3b2a5e" opacity=".85"/>
<ellipse cx="44.5" cy="63.0" rx="3.2" ry="2.2" fill="#3b2a5e" opacity=".85"/>
<ellipse cx="52.9" cy="63.0" rx="3.2" ry="2.2" fill="#3b2a5e" opacity=".85"/>
<ellipse cx="44.4" cy="82.0" rx="3.3" ry="2.3" fill="#3b2a5e" opacity=".85"/>
<ellipse cx="53.0" cy="82.0" rx="3.3" ry="2.3" fill="#3b2a5e" opacity=".85"/>
<ellipse cx="43.9" cy="102.0" rx="3.8" ry="2.6" fill="#3b2a5e" opacity=".85"/>
<ellipse cx="53.6" cy="102.0" rx="3.8" ry="2.6" fill="#3b2a5e" opacity=".85"/>
<ellipse cx="44.2" cy="124.0" rx="3.5" ry="2.4" fill="#3b2a5e" opacity=".85"/>
<ellipse cx="53.2" cy="124.0" rx="3.5" ry="2.4" fill="#3b2a5e" opacity=".85"/>
<ellipse cx="45.1" cy="142.0" rx="2.8" ry="1.9" fill="#3b2a5e" opacity=".85"/>
<ellipse cx="52.3" cy="142.0" rx="2.8" ry="1.9" fill="#3b2a5e" opacity=".85"/>
<circle cx="50.5" cy="9.5" r="1.8" fill="#3d2c74"/>
<circle cx="46.5" cy="12" r="1.5" fill="#3d2c74"/>
<circle cx="42" cy="18.5" r="2.6" fill="#3d2c74"/>
<circle cx="55.5" cy="17" r="2.2" fill="#3d2c74"/>
<circle cx="61" cy="21" r="2.4" fill="#3d2c74"/>
<circle cx="39" cy="24" r="2" fill="#3d2c74"/>
<ellipse cx="61.6" cy="101.6" rx="2" ry="1.1" fill="#a79ce6" opacity=".7" transform="rotate(30 61.6 101.6)"/>
<ellipse cx="31.0" cy="127.2" rx="2" ry="1.1" fill="#a79ce6" opacity=".7" transform="rotate(-35 31.0 127.2)"/>
<ellipse cx="54.0" cy="44.8" rx="2" ry="1.1" fill="#a79ce6" opacity=".7" transform="rotate(37 54.0 44.8)"/>
<ellipse cx="35.4" cy="111.8" rx="2" ry="1.1" fill="#a79ce6" opacity=".7" transform="rotate(45 35.4 111.8)"/>
<ellipse cx="60.5" cy="49.6" rx="2" ry="1.1" fill="#a79ce6" opacity=".7" transform="rotate(7 60.5 49.6)"/>
<ellipse cx="55.4" cy="111.9" rx="2" ry="1.1" fill="#a79ce6" opacity=".7" transform="rotate(-56 55.4 111.9)"/>
<ellipse cx="60.9" cy="91.6" rx="2" ry="1.1" fill="#a79ce6" opacity=".7" transform="rotate(-29 60.9 91.6)"/>
<ellipse cx="37.8" cy="110.8" rx="2" ry="1.1" fill="#a79ce6" opacity=".7" transform="rotate(32 37.8 110.8)"/>
<ellipse cx="39.9" cy="84.0" rx="2" ry="1.1" fill="#a79ce6" opacity=".7" transform="rotate(-18 39.9 84.0)"/>
<ellipse cx="55.9" cy="36.0" rx="2" ry="1.1" fill="#a79ce6" opacity=".7" transform="rotate(34 55.9 36.0)"/>
<ellipse cx="36.5" cy="61.3" rx="2" ry="1.1" fill="#a79ce6" opacity=".7" transform="rotate(43 36.5 61.3)"/>
<ellipse cx="42.4" cy="70.8" rx="2" ry="1.1" fill="#a79ce6" opacity=".7" transform="rotate(15 42.4 70.8)"/>
<ellipse cx="60.9" cy="122.7" rx="2" ry="1.1" fill="#a79ce6" opacity=".7" transform="rotate(25 60.9 122.7)"/>
<ellipse cx="36.7" cy="75.5" rx="2" ry="1.1" fill="#a79ce6" opacity=".7" transform="rotate(52 36.7 75.5)"/>
</g>
<path d="M48.7,7C49.6,40 48.2,90 48.3,152.6" stroke="#3d2a40" stroke-width="1.2" fill="none" opacity=".75"/>
</g>
<rect width="102" height="152.6" rx="5.5" fill="none" stroke="#e9eaee" stroke-width="1.2" opacity=".8"/>
<rect x="50" y="124.3" width="44.7" height="22.6" rx="2" fill="#f4f4f6" opacity=".95"/>
</svg>


<!-- text lines -->
<div class="t" id="t0" style="left:702.7px;top:27.28px;font-size:17.2px;color:#a8ad92;transform:scaleX(1.0234);">CHAPITRE 9.</div>
<div class="t" id="t1" style="left:818.0px;top:27.28px;font-size:17.2px;font-weight:700;color:#a8ad92;transform:scaleX(1.0548);">La biodiversité et son évolution</div>
<div class="t" id="t2" style="left:1099.2px;top:223.10px;font-size:32px;font-weight:700;color:#fff;transform-origin:0 27.20px;transform:rotate(-90deg) scaleX(0.8192);">EXERCICES</div>
<div class="t" id="t3" style="left:92.5px;top:112.92px;font-size:21.5px;font-weight:700;color:#fff;letter-spacing:-1px;transform:scaleX(1.0036);">15</div>
<div class="t" id="t4" style="left:130.0px;top:105.60px;font-size:22px;font-weight:700;color:#a5a412;-webkit-text-stroke:0.5px currentColor;transform:scaleX(1.0074);">Mettre en relation des informations issues de documents</div>
<div class="t" id="t5" style="left:121.8px;top:151.77px;font-size:21.8px;color:#d4532b;-webkit-text-stroke:0.4px currentColor;transform:scaleX(1.0962);">Construction de la ville de Jiangwan</div>
<div class="t" id="t6" style="left:121.3px;top:195.82px;font-size:16.8px;color:#1d1d1b;-webkit-text-stroke:0.15px currentColor;transform:scaleX(0.9772);">La ville nouvelle de Jiangwan se trouve au Nord-Est</div>
<div class="t" id="t7" style="left:121.3px;top:217.52px;font-size:16.8px;color:#1d1d1b;-webkit-text-stroke:0.15px currentColor;transform:scaleX(0.9659);">de la ville de Shanghai, en Chine, et couvre</div>
<div class="t" id="t8" style="left:121.3px;top:239.12px;font-size:16.8px;color:#1d1d1b;-webkit-text-stroke:0.15px currentColor;transform:scaleX(0.9644);">une superficie de 6,56 km². Cette zone a</div>
<div class="t" id="t9" style="left:121.3px;top:260.72px;font-size:16.8px;color:#1d1d1b;-webkit-text-stroke:0.15px currentColor;transform:scaleX(0.9955);">rapidement évolué notamment après</div>
<div class="t" id="t10" style="left:121.3px;top:283.42px;font-size:16.8px;color:#1d1d1b;-webkit-text-stroke:0.15px currentColor;">la construction d’un campus universitaire.</div>
<div class="t" id="t11" style="left:120.0px;top:321.68px;font-size:14.5px;font-weight:700;color:#4b6a86;transform:scaleX(0.9346);">Richesse spécifique</div>
<div class="t" id="t12" style="left:119.5px;top:345.62px;font-size:13.5px;color:#647d90;transform:scaleX(0.8316);">80</div>
<div class="t" id="t13" style="left:119.5px;top:361.95px;font-size:13.5px;color:#647d90;transform:scaleX(0.8316);">70</div>
<div class="t" id="t14" style="left:119.5px;top:379.27px;font-size:13.5px;color:#647d90;transform:scaleX(0.8316);">60</div>
<div class="t" id="t15" style="left:119.5px;top:394.60px;font-size:13.5px;color:#647d90;transform:scaleX(0.8316);">50</div>
<div class="t" id="t16" style="left:119.5px;top:410.92px;font-size:13.5px;color:#647d90;transform:scaleX(0.8316);">40</div>
<div class="t" id="t17" style="left:119.5px;top:428.25px;font-size:13.5px;color:#647d90;transform:scaleX(0.8316);">30</div>
<div class="t" id="t18" style="left:119.5px;top:443.57px;font-size:13.5px;color:#647d90;transform:scaleX(0.8316);">20</div>
<div class="t" id="t19" style="left:119.5px;top:459.90px;font-size:13.5px;color:#647d90;transform:scaleX(0.8316);">10</div>
<div class="t" id="t20" style="left:125.5px;top:477.22px;font-size:13.5px;color:#647d90;transform:scaleX(0.8649);">0</div>
<div class="t" id="t21" style="left:129.7px;top:488.82px;font-size:13.5px;color:#647d90;transform:scaleX(0.8387);">2002</div>
<div class="t" id="t22" style="left:174.0px;top:488.82px;font-size:13.5px;color:#647d90;transform:scaleX(0.8387);">2004</div>
<div class="t" id="t23" style="left:218.3px;top:488.82px;font-size:13.5px;color:#647d90;transform:scaleX(0.8387);">2006</div>
<div class="t" id="t24" style="left:262.7px;top:488.82px;font-size:13.5px;color:#647d90;transform:scaleX(0.8387);">2008</div>
<div class="t" id="t25" style="left:307.0px;top:488.82px;font-size:13.5px;color:#647d90;transform:scaleX(0.8387);">2010</div>
<div class="t" id="t26" style="left:351.3px;top:488.82px;font-size:13.5px;color:#647d90;transform:scaleX(0.8387);">2012</div>
<div class="t" id="t27" style="left:395.0px;top:486.75px;font-size:15px;font-weight:700;color:#4b6a86;transform:scaleX(0.9227);">Années</div>
<div class="t" id="t28" style="left:390.3px;top:344.80px;font-size:14px;color:#4b6a86;-webkit-text-stroke:0.2px currentColor;transform:scaleX(0.8294);">BEN : Benthivores*</div>
<div class="t" id="t29" style="left:390.3px;top:365.40px;font-size:14px;color:#4b6a86;-webkit-text-stroke:0.2px currentColor;transform:scaleX(0.7776);">CAR : Carnivores</div>
<div class="t" id="t30" style="left:390.3px;top:386.00px;font-size:14px;color:#4b6a86;-webkit-text-stroke:0.2px currentColor;transform:scaleX(0.7926);">PIS : Piscivores</div>
<div class="t" id="t31" style="left:390.3px;top:406.60px;font-size:14px;color:#4b6a86;-webkit-text-stroke:0.2px currentColor;transform:scaleX(0.7900);">FRU : Frugivores</div>
<div class="t" id="t32" style="left:390.3px;top:427.20px;font-size:14px;color:#4b6a86;-webkit-text-stroke:0.2px currentColor;transform:scaleX(0.8268);">INS : Insectivores</div>
<div class="t" id="t33" style="left:390.3px;top:447.80px;font-size:14px;color:#4b6a86;-webkit-text-stroke:0.2px currentColor;transform:scaleX(0.8231);">OMN : Omnivores</div>
<div class="t" id="t34" style="left:124.0px;top:516.62px;font-size:15.5px;font-weight:700;color:#fff;transform:scaleX(0.9393);">DOC 2</div>
<div class="t" id="t35" style="left:176.8px;top:517.05px;font-size:17px;font-weight:700;color:#1d1d1b;transform:scaleX(0.9703);">Évolution de la richesse spécifique</div>
<div class="t" id="t36" style="left:120.5px;top:537.85px;font-size:17px;font-weight:700;color:#1d1d1b;transform:scaleX(0.9724);">des oiseaux dans la zone étudiée.</div>
<div class="t" id="t37" style="left:122.0px;top:559.25px;font-size:14.3px;color:#67819a;transform:scaleX(0.8865);">*se nourrissent d’espèces vivant au fond de l’eau.</div>
<div class="t" id="t38" style="left:633.5px;top:291.68px;font-size:15.2px;font-weight:700;color:#111;transform:scaleX(0.9616);">2000</div>
<div class="t" id="t39" style="left:791.4px;top:291.68px;font-size:15.2px;font-weight:700;color:#111;transform:scaleX(0.9705);">2006</div>
<div class="t" id="t40" style="left:949.3px;top:291.68px;font-size:15.2px;font-weight:700;color:#111;transform:scaleX(0.8936);">2013</div>
<div class="t" id="t41" style="left:560.5px;top:304.07px;font-size:10.5px;font-weight:700;color:#5b7890;transform:scaleX(0.9218);">N</div>
<div class="t" id="t42" style="left:541.2px;top:312.95px;font-size:13px;font-weight:700;color:#222;transform:scaleX(0.7741);">0</div>
<div class="t" id="t43" style="left:577.8px;top:312.95px;font-size:13px;font-weight:700;color:#222;transform:scaleX(0.6714);">1 km</div>
<div class="t" id="t44" style="left:581.5px;top:335.38px;font-size:14.5px;color:#1a1a1a;-webkit-text-stroke:0.3px currentColor;transform:scaleX(0.8536);">Campus de</div>
<div class="t" id="t45" style="left:581.5px;top:348.18px;font-size:14.5px;color:#1a1a1a;-webkit-text-stroke:0.3px currentColor;transform:scaleX(0.8569);">Jiangwan</div>
<div class="t" id="t46" style="left:701.7px;top:342.28px;font-size:14.5px;color:#1a1a1a;-webkit-text-stroke:0.3px currentColor;transform:scaleX(0.8784);">Zone construite</div>
<div class="t" id="t47" style="left:844.5px;top:342.28px;font-size:14.5px;color:#1a1a1a;-webkit-text-stroke:0.3px currentColor;transform:scaleX(0.8565);">Prairies</div>
<div class="t" id="t48" style="left:949.0px;top:335.38px;font-size:14.5px;color:#1a1a1a;-webkit-text-stroke:0.3px currentColor;transform:scaleX(0.8318);">Zone</div>
<div class="t" id="t49" style="left:949.0px;top:348.18px;font-size:14.5px;color:#1a1a1a;-webkit-text-stroke:0.3px currentColor;transform:scaleX(0.9146);">humide</div>
<div class="t" id="t50" style="left:581.5px;top:369.98px;font-size:14.5px;color:#1a1a1a;-webkit-text-stroke:0.3px currentColor;transform:scaleX(0.8389);">Sol nu</div>
<div class="t" id="t51" style="left:701.7px;top:369.98px;font-size:14.5px;color:#1a1a1a;-webkit-text-stroke:0.3px currentColor;transform:scaleX(0.8347);">Forêts</div>
<div class="t" id="t52" style="left:844.5px;top:369.98px;font-size:14.5px;color:#1a1a1a;-webkit-text-stroke:0.3px currentColor;transform:scaleX(0.8736);">Arbustes</div>
<div class="t" id="t53" style="left:949.0px;top:369.98px;font-size:14.5px;color:#1a1a1a;-webkit-text-stroke:0.3px currentColor;transform:scaleX(0.7903);">Eau</div>
<div class="t" id="t54" style="left:536.1px;top:410.32px;font-size:15.5px;font-weight:700;color:#fff;transform:scaleX(0.8591);">DOC 1</div>
<div class="t" id="t55" style="left:586.0px;top:409.85px;font-size:17px;font-weight:700;color:#1d1d1b;transform:scaleX(0.9839);">Construction de la ville de Jiangwan.</div>
<div class="t" id="t56" style="left:546.0px;top:486.60px;font-size:20px;color:#d4532b;letter-spacing:1px;-webkit-text-stroke:0.5px currentColor;transform:scaleX(0.6927);">QUESTION</div>
<div class="t" id="t57" style="left:545.5px;top:513.50px;font-size:15.3px;color:#1b6c99;-webkit-text-stroke:0.35px currentColor;transform:scaleX(1.0288);">Après avoir décrit les modifications environnementales de la zone</div>
<div class="t" id="t58" style="left:545.5px;top:533.39px;font-size:15.3px;color:#1b6c99;-webkit-text-stroke:0.35px currentColor;transform:scaleX(1.0139);">étudiée, décrivez les conséquences sur la richesse spécifique des</div>
<div class="t" id="t59" style="left:545.5px;top:553.39px;font-size:15.3px;color:#1b6c99;-webkit-text-stroke:0.35px currentColor;transform:scaleX(1.0212);">oiseaux. Formulez une hypothèse pour expliquer vos observations.</div>
<div class="t" id="t60" style="left:92.5px;top:653.93px;font-size:21.5px;font-weight:700;color:#fff;letter-spacing:-1px;transform:scaleX(1.0264);">16</div>
<div class="t" id="t61" style="left:130.0px;top:648.10px;font-size:22px;font-weight:700;color:#a5a412;-webkit-text-stroke:0.5px currentColor;transform:scaleX(1.0074);">Mettre en relation des informations issues de documents</div>
<div class="t" id="t62" style="left:121.6px;top:695.17px;font-size:21.8px;color:#d4532b;-webkit-text-stroke:0.4px currentColor;transform:scaleX(1.1122);">Taille des populations et diversité génétique</div>
<div class="t" id="t63" style="left:120.2px;top:728.92px;font-size:16.8px;color:#1d1d1b;-webkit-text-stroke:0.15px currentColor;transform:scaleX(0.9850);">Ci-dessous sont présentés les résultats de deux études distinctes</div>
<div class="t" id="t64" style="left:120.2px;top:750.52px;font-size:16.8px;color:#1d1d1b;-webkit-text-stroke:0.15px currentColor;transform:scaleX(1.0084);">qui s’intéressent à l’effet de la diminution de la taille</div>
<div class="t" id="t65" style="left:120.2px;top:772.12px;font-size:16.8px;color:#1d1d1b;-webkit-text-stroke:0.15px currentColor;transform:scaleX(0.9947);">des populations sur la diversité génétique.</div>
<div class="t" id="t66" style="left:164.5px;top:822.83px;font-size:15.5px;font-weight:700;color:#fff;transform:scaleX(0.9077);">DOC 1</div>
<div class="t" id="t67" style="left:216.7px;top:821.55px;font-size:17px;color:#1d1d1b;transform:scaleX(0.9951);"><b>Effet de la taille de la population sur l’hétérozygotie</b></div>
<div class="t" id="t68" style="left:196.0px;top:841.55px;font-size:17px;color:#1d1d1b;transform:scaleX(0.9827);"><b>moyenne des gènes de la truite mouchetée (<i>Salvelinus</i></b></div>
<div class="t" id="t69" style="left:169.6px;top:863.43px;font-size:15.5px;color:#1d1d1b;transform:scaleX(0.9910);"><b style="font-size:17px"><i>fontinalis</i>).</b> L’hétérozygotie moyenne représente le nombre moyen</div>
<div class="t" id="t70" style="left:164.8px;top:882.03px;font-size:15.5px;color:#1d1d1b;transform:scaleX(0.9703);">de gènes hétérozygotes dans l’espèce étudiée. Plus cet indicateur est</div>
<div class="t" id="t71" style="left:171.0px;top:902.23px;font-size:15.5px;color:#1d1d1b;transform:scaleX(0.9921);">élevé, plus la diversité génétique est importante dans la population.</div>
<div class="t" id="t72" style="left:653.7px;top:751.73px;font-size:13.5px;font-style:italic;color:#4b6a86;transform:scaleX(0.8829);">D’après Fraser et al, 2014</div>
<div class="t" id="t73" style="left:760.5px;top:792.25px;font-size:13px;color:#4b6a86;transform:scaleX(0.8417);">Intervalle de confiance</div>
<div class="t" id="t74" style="left:760.5px;top:807.25px;font-size:13px;color:#4b6a86;transform:scaleX(0.8275);">à 95 %</div>
<div class="t" id="t75" style="left:674.0px;top:834.12px;font-size:13.5px;color:#647d90;transform:scaleX(0.8785);">0,5</div>
<div class="t" id="t76" style="left:674.0px;top:862.22px;font-size:13.5px;color:#647d90;transform:scaleX(0.8785);">0,4</div>
<div class="t" id="t77" style="left:674.0px;top:890.32px;font-size:13.5px;color:#647d90;transform:scaleX(0.8785);">0,3</div>
<div class="t" id="t78" style="left:674.0px;top:918.42px;font-size:13.5px;color:#647d90;transform:scaleX(0.8785);">0,2</div>
<div class="t" id="t79" style="left:674.0px;top:945.52px;font-size:13.5px;color:#647d90;transform:scaleX(0.8785);">0,1</div>
<div class="t" id="t80" style="left:684.0px;top:973.62px;font-size:13.5px;color:#647d90;transform:scaleX(0.8649);">0</div>
<div class="t" id="t81" style="left:707.7px;top:996.02px;font-size:13.5px;color:#647d90;transform:scaleX(0.7983);">0</div>
<div class="t" id="t82" style="left:754.6px;top:996.02px;font-size:13.5px;color:#647d90;transform:scaleX(0.7850);">50</div>
<div class="t" id="t83" style="left:801.4px;top:996.02px;font-size:13.5px;color:#647d90;transform:scaleX(0.7900);">100</div>
<div class="t" id="t84" style="left:851.3px;top:996.02px;font-size:13.5px;color:#647d90;transform:scaleX(0.7900);">150</div>
<div class="t" id="t85" style="left:901.1px;top:996.02px;font-size:13.5px;color:#647d90;transform:scaleX(0.7900);">200</div>
<div class="t" id="t86" style="left:950.9px;top:996.02px;font-size:13.5px;color:#647d90;transform:scaleX(0.7900);">250</div>
<div class="t" id="t87" style="left:663.2px;top:973.12px;font-size:13.5px;font-weight:700;color:#4b6a86;transform-origin:0 11.47px;transform:rotate(-90deg) scaleX(0.9282);">Hétérozygotine moyenne</div>
<div class="t" id="t88" style="left:762.7px;top:1018.52px;font-size:13.5px;font-weight:700;color:#4b6a86;transform:scaleX(0.9221);">Taille de la population</div>
<div class="t" id="t89" style="left:730.9px;top:1036.03px;font-size:13.5px;color:#4b6a86;transform:scaleX(0.9271);">(nombre d’individus reproducteurs)</div>
<div class="t" id="t90" style="left:986.0px;top:791.85px;font-size:14.3px;font-weight:700;color:#111;transform:scaleX(0.8338);">Truite mouchetée</div>
<div class="t" id="t91" style="left:130.6px;top:1002.02px;font-size:13.5px;font-style:italic;color:#4b6a86;transform:scaleX(0.8793);">D’après Young et al, 1996</div>
<div class="t" id="t92" style="left:153.7px;top:1054.83px;font-size:13.5px;color:#647d90;transform:scaleX(0.8316);">60</div>
<div class="t" id="t93" style="left:153.7px;top:1086.73px;font-size:13.5px;color:#647d90;transform:scaleX(0.8316);">45</div>
<div class="t" id="t94" style="left:153.7px;top:1118.62px;font-size:13.5px;color:#647d90;transform:scaleX(0.8316);">30</div>
<div class="t" id="t95" style="left:153.7px;top:1150.53px;font-size:13.5px;color:#647d90;transform:scaleX(0.8316);">15</div>
<div class="t" id="t96" style="left:159.7px;top:1183.42px;font-size:13.5px;color:#647d90;transform:scaleX(0.8649);">0</div>
<div class="t" id="t97" style="left:178.9px;top:1199.33px;font-size:13.5px;color:#647d90;transform:scaleX(0.6653);">1</div>
<div class="t" id="t98" style="left:265.6px;top:1199.33px;font-size:13.5px;color:#647d90;transform:scaleX(0.7983);">10</div>
<div class="t" id="t99" style="left:355.9px;top:1199.33px;font-size:13.5px;color:#647d90;transform:scaleX(0.7287);">10<sup style="font-size:7px;line-height:0;vertical-align:5.5px">2</sup></div>
<div class="t" id="t100" style="left:446.1px;top:1199.33px;font-size:13.5px;color:#647d90;transform:scaleX(0.7287);">10<sup style="font-size:7px;line-height:0;vertical-align:5.5px">3</sup></div>
<div class="t" id="t101" style="left:536.3px;top:1199.33px;font-size:13.5px;color:#647d90;transform:scaleX(0.7287);">10<sup style="font-size:7px;line-height:0;vertical-align:5.5px">4</sup></div>
<div class="t" id="t102" style="left:139.2px;top:1172.23px;font-size:13.5px;font-weight:700;color:#4b6a86;transform-origin:0 11.47px;transform:rotate(-90deg) scaleX(0.9000);">Polymorphisme <span style="font-weight:400">(UA)</span></div>
<div class="t" id="t103" style="left:219.6px;top:1216.53px;font-size:13.5px;color:#4b6a86;transform:scaleX(0.9300);"><b>Taille de la population</b> (nombre d’individus reproducteurs)</div>
<div class="t" id="t104" style="left:568.2px;top:1064.17px;font-size:13.8px;font-weight:700;color:#111;transform:scaleX(0.8477);">Sauge</div>
<div class="t" id="t105" style="left:124.0px;top:1263.83px;font-size:15.5px;font-weight:700;color:#fff;transform:scaleX(0.9351);">DOC 2</div>
<div class="t" id="t106" style="left:177.0px;top:1263.85px;font-size:17px;font-weight:700;color:#1d1d1b;transform:scaleX(0.9829);">Polymorphisme en fonction de la taille de</div>
<div class="t" id="t107" style="left:120.3px;top:1285.25px;font-size:17px;font-weight:700;color:#1d1d1b;transform:scaleX(0.9930);">la population chez la sauge commune (<i>Salvia pratensis</i>).</div>
<div class="t" id="t108" style="left:120.3px;top:1306.42px;font-size:15.5px;color:#1d1d1b;-webkit-text-stroke:0.15px currentColor;transform:scaleX(0.9829);">La diversité génétique des plantes est estimée par le polymorphisme.</div>
<div class="t" id="t109" style="left:120.3px;top:1324.73px;font-size:15.5px;color:#1d1d1b;-webkit-text-stroke:0.15px currentColor;transform:scaleX(0.9648);">On compare les séquences des mêmes parties du génome dans</div>
<div class="t" id="t110" style="left:120.3px;top:1345.42px;font-size:15.5px;color:#1d1d1b;-webkit-text-stroke:0.15px currentColor;transform:scaleX(0.9817);">une population. Plus ces séquences diffèrent d’un individu à l’autre,</div>
<div class="t" id="t111" style="left:120.3px;top:1364.12px;font-size:15.5px;color:#1d1d1b;-webkit-text-stroke:0.15px currentColor;transform:scaleX(0.9952);">plus la diversité génétique est importante.</div>
<div class="t" id="t112" style="left:698.2px;top:1114.40px;font-size:20px;color:#d4532b;letter-spacing:1px;-webkit-text-stroke:0.5px currentColor;transform:scaleX(0.6940);">QUESTIONS</div>
<div class="t" id="t113" style="left:718.9px;top:1140.39px;font-size:15.3px;color:#1b6c99;-webkit-text-stroke:0.35px currentColor;">D’après vos connaissances, expliquez en</div>
<div class="t" id="t114" style="left:718.9px;top:1160.19px;font-size:15.3px;color:#1b6c99;-webkit-text-stroke:0.35px currentColor;transform:scaleX(1.0310);">quelques lignes en quoi la fragmentation</div>
<div class="t" id="t115" style="left:718.9px;top:1179.99px;font-size:15.3px;color:#1b6c99;-webkit-text-stroke:0.35px currentColor;transform:scaleX(1.0448);">d’un milieu peut conduire à la réduction</div>
<div class="t" id="t116" style="left:718.9px;top:1199.79px;font-size:15.3px;color:#1b6c99;-webkit-text-stroke:0.35px currentColor;transform:scaleX(1.0558);">de taille d’une population.</div>
<div class="t" id="t117" style="left:718.9px;top:1222.29px;font-size:15.3px;color:#1b6c99;-webkit-text-stroke:0.35px currentColor;transform:scaleX(0.9927);">À partir des résultats des <span style="color:#7db83f;font-size:14px">DOCS 1 et 2</span>,</div>
<div class="t" id="t118" style="left:718.9px;top:1242.09px;font-size:15.3px;color:#1b6c99;-webkit-text-stroke:0.35px currentColor;transform:scaleX(1.0464);">montrez que la réduction de taille</div>
<div class="t" id="t119" style="left:718.9px;top:1261.89px;font-size:15.3px;color:#1b6c99;-webkit-text-stroke:0.35px currentColor;transform:scaleX(1.0414);">d’une population a un effet</div>
<div class="t" id="t120" style="left:718.9px;top:1281.79px;font-size:15.3px;color:#1b6c99;-webkit-text-stroke:0.35px currentColor;transform:scaleX(1.0434);">sur la diversité génétique.</div>
<div class="t" id="t121" style="left:718.9px;top:1304.59px;font-size:15.3px;color:#1b6c99;-webkit-text-stroke:0.35px currentColor;transform:scaleX(0.9891);">D’après vos connaissances,</div>
<div class="t" id="t122" style="left:718.9px;top:1324.29px;font-size:15.3px;color:#1b6c99;-webkit-text-stroke:0.35px currentColor;transform:scaleX(1.0336);">quel mécanisme permet d’expliquer</div>
<div class="t" id="t123" style="left:718.9px;top:1344.29px;font-size:15.3px;color:#1b6c99;-webkit-text-stroke:0.35px currentColor;transform:scaleX(1.0344);">la variation des fréquences alléliques</div>
<div class="t" id="t124" style="left:718.9px;top:1364.49px;font-size:15.3px;color:#1b6c99;-webkit-text-stroke:0.35px currentColor;transform:scaleX(1.0260);">dans les populations de petite taille ?</div>
<div class="t" id="t125" style="left:698.2px;top:1139.38px;font-size:16.5px;font-weight:700;color:#d4532b;-webkit-text-stroke:0.4px currentColor;transform:scaleX(0.9299);">1.</div>
<div class="t" id="t126" style="left:698.2px;top:1221.27px;font-size:16.5px;font-weight:700;color:#d4532b;-webkit-text-stroke:0.4px currentColor;transform:scaleX(0.9662);">2.</div>
<div class="t" id="t127" style="left:698.2px;top:1303.57px;font-size:16.5px;font-weight:700;color:#d4532b;-webkit-text-stroke:0.4px currentColor;transform:scaleX(0.9662);">3.</div>
<div class="t" id="t128" style="left:1072.9px;top:1451.03px;font-size:17.5px;font-weight:700;color:#1b6a9c;font-family:'Liberation Serif',serif;transform:scaleX(0.8990);">215</div>
</div>
</body></html>
